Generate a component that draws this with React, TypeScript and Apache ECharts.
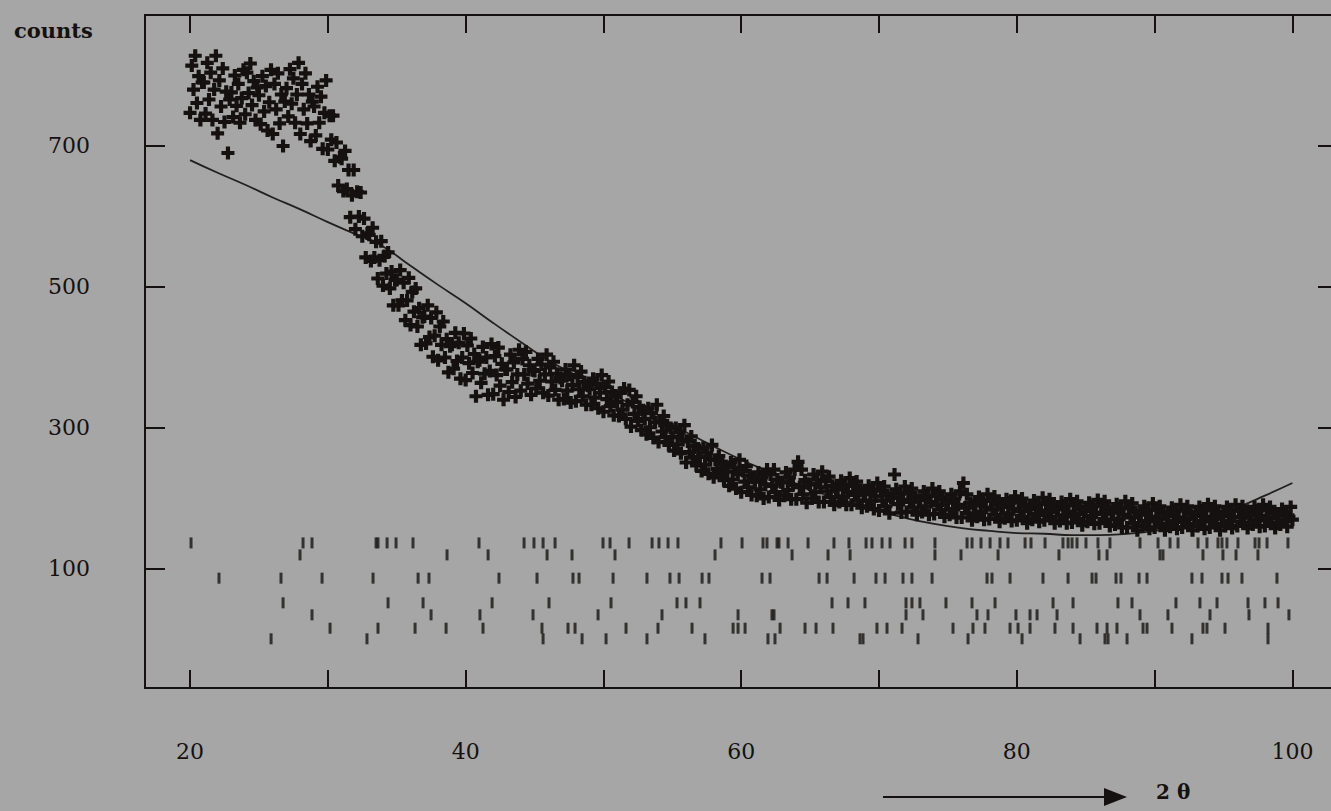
import React, { useEffect, useRef } from "react";
import * as echarts from "echarts";

// ---- observed pattern: 2θ grid start/step, counts ----
const THETA_START = 20;
const THETA_STEP = 0.125;
const obsCounts = [
  747, 814, 780, 828, 761, 799, 737, 790,
  790, 746, 818, 766, 804, 737, 780, 828,
  718, 793, 756, 810, 734, 777, 690, 766,
  776, 741, 800, 757, 788, 733, 768, 808,
  745, 804, 775, 817, 758, 792, 737, 783,
  772, 731, 799, 749, 785, 722, 762, 808,
  717, 788, 752, 803, 732, 773, 700, 763,
  782, 742, 809, 760, 796, 733, 773, 818,
  717, 788, 752, 803, 732, 773, 707, 763,
  756, 715, 784, 733, 770, 696, 747, 793,
  695, 743, 709, 743, 679, 705, 644, 684,
  682, 636, 693, 639, 666, 599, 630, 666,
  582, 635, 600, 634, 572, 597, 542, 576,
  574, 537, 584, 542, 564, 512, 538, 565,
  502, 544, 519, 549, 498, 522, 474, 510,
  510, 474, 524, 481, 506, 453, 481, 513,
  446, 493, 465, 498, 444, 470, 418, 457,
  458, 420, 474, 429, 456, 401, 431, 464,
  396, 444, 418, 451, 400, 426, 379, 416,
  418, 384, 435, 395, 421, 370, 400, 434,
  368, 417, 392, 427, 378, 405, 345, 394,
  396, 364, 415, 377, 400, 347, 381, 419,
  348, 402, 375, 414, 360, 391, 340, 383,
  383, 351, 404, 365, 393, 344, 376, 411,
  353, 398, 376, 408, 363, 389, 347, 382,
  381, 356, 398, 367, 390, 350, 376, 404,
  346, 386, 366, 394, 354, 377, 340, 371,
  367, 341, 383, 353, 375, 336, 361, 389,
  338, 372, 355, 380, 345, 365, 333, 360,
  355, 333, 370, 343, 363, 328, 350, 375,
  323, 358, 341, 366, 331, 351, 318, 346,
  337, 317, 350, 326, 356, 313, 333, 354,
  302, 337, 320, 345, 310, 330, 297, 325,
  313, 291, 328, 301, 321, 286, 308, 333,
  280, 310, 295, 317, 287, 304, 276, 300,
  287, 268, 300, 277, 294, 264, 283, 304,
  251, 281, 266, 288, 258, 275, 247, 271,
  259, 239, 272, 248, 265, 235, 255, 276,
  230, 255, 242, 260, 235, 249, 226, 246,
  238, 218, 251, 227, 244, 214, 234, 255,
  209, 239, 224, 246, 216, 233, 205, 229,
  224, 204, 237, 213, 230, 200, 220, 241,
  202, 234, 218, 241, 209, 227, 198, 223,
  223, 204, 237, 212, 230, 199, 219, 241,
  199, 252, 216, 241, 206, 226, 194, 221,
  220, 200, 234, 209, 227, 195, 216, 238,
  195, 225, 210, 231, 202, 218, 191, 214,
  213, 195, 225, 203, 219, 191, 209, 229,
  191, 218, 205, 224, 197, 212, 187, 208,
  206, 189, 218, 197, 212, 185, 203, 222,
  183, 211, 197, 217, 189, 205, 179, 201,
  201, 234, 213, 192, 207, 180, 198, 217,
  181, 208, 195, 214, 187, 202, 177, 198,
  198, 181, 210, 189, 204, 177, 195, 214,
  178, 204, 191, 210, 184, 199, 174, 195,
  194, 177, 206, 185, 200, 173, 191, 210,
  173, 222, 187, 206, 179, 194, 169, 190,
  191, 174, 202, 181, 197, 170, 187, 206,
  171, 197, 184, 203, 177, 192, 167, 188,
  188, 172, 199, 179, 194, 168, 185, 203,
  169, 195, 182, 200, 174, 189, 165, 185,
  187, 170, 197, 178, 192, 167, 183, 201,
  169, 194, 181, 199, 174, 188, 165, 185,
  185, 168, 195, 176, 190, 165, 181, 199,
  166, 191, 178, 196, 171, 185, 162, 182,
  184, 167, 194, 175, 189, 164, 180, 198,
  165, 191, 178, 196, 170, 185, 161, 181,
  180, 163, 192, 171, 186, 159, 177, 196,
  159, 187, 173, 193, 165, 181, 155, 177,
  178, 161, 189, 168, 184, 157, 174, 193,
  159, 184, 171, 189, 164, 178, 155, 175,
  177, 160, 187, 168, 182, 157, 173, 191,
  159, 184, 171, 189, 164, 178, 155, 175,
  177, 161, 188, 168, 183, 157, 174, 192,
  159, 184, 171, 189, 164, 178, 155, 175,
  177, 161, 188, 168, 182, 158, 174, 191,
  161, 184, 173, 189, 166, 179, 158, 176,
  178, 163, 188, 170, 183, 160, 175, 191,
  161, 184, 172, 188, 166, 179, 158, 176,
  176, 163, 185, 169, 181, 160, 174, 188,
  170,
];

// ---- calculated curve ----
const calcTheta = [20, 22, 24, 26, 28, 30, 32, 33.8, 36, 38, 40, 42, 44, 46, 48, 50, 52, 54, 56, 58, 60, 62, 64, 66, 68, 70, 72, 74, 76, 78, 80, 82, 84, 86, 88, 90, 92, 94, 96, 98, 100];
const calcCounts = [680, 662, 645, 627, 610, 592, 575, 560, 530, 503, 477, 449, 422, 396, 375, 354, 334, 314, 294, 274, 255, 238, 221, 206, 194, 182, 172, 164, 158, 154, 151, 150, 148, 148, 150, 154, 161, 172, 187, 204, 222];

// ---- reflection marks (2θ), one list per row ----
const braggRow1 = [20.07, 28.2, 28.85, 33.5, 33.64, 34.3, 34.95, 36.18, 40.97, 44.24, 44.96, 45.62, 46.49, 49.97, 50.48, 51.86, 53.53, 54.03, 54.69, 55.41, 58.53, 60.06, 61.58, 61.87, 62.6, 62.74, 63.4, 64.85, 66.73, 67.82, 69.06, 69.49, 70.22, 70.8, 71.89, 72.39, 74.06, 76.39, 76.75, 77.4, 78.06, 78.78, 79.36, 80.6, 81.03, 82.05, 83.35, 83.72, 84.01, 84.37, 85.02, 85.89, 86.76, 88.94, 90.25, 91.12, 91.7, 93.15, 93.8, 94.6, 94.89, 95.25, 96.05, 97.29, 97.58, 98.16, 99.68];
const braggRow1b = [27.98, 38.65, 41.63, 45.91, 47.72, 50.84, 58.1, 63.69, 66.3, 67.9, 74.06, 75.95, 78.64, 83.06, 85.96, 86.55, 90.39, 90.61, 93.51, 94.96, 95.91, 97.5];
const braggRow2 = [22.1, 26.6, 29.58, 33.28, 36.55, 37.34, 42.42, 45.18, 47.79, 48.23, 50.7, 53.16, 54.83, 55.49, 57.16, 57.66, 61.51, 62.09, 65.65, 66.23, 68.19, 69.78, 70.44, 71.74, 72.39, 73.85, 77.84, 78.2, 79.51, 81.9, 83.72, 85.46, 85.75, 87.2, 87.56, 88.87, 89.45, 92.71, 93.44, 94.89, 95.33, 96.34, 98.88];
const braggRow3 = [26.75, 34.37, 36.91, 41.92, 46.05, 50.55, 55.34, 55.99, 57.01, 66.59, 67.75, 68.98, 71.96, 72.39, 72.97, 74.86, 76.75, 78.42, 82.63, 84.08, 87.34, 88.36, 91.55, 93.29, 94.53, 96.78, 98.01, 98.96];
const braggRow3b = [28.85, 37.49, 41.04, 44.89, 49.61, 54.25, 59.77, 62.23, 62.38, 71.96, 73.19, 77.11, 77.91, 79.94, 80.96, 81.47, 82.92, 88.94, 90.97, 94.02, 96.85, 99.75];
const braggRow4 = [30.16, 33.64, 36.33, 38.58, 41.26, 45.54, 47.43, 47.94, 51.64, 53.96, 56.43, 59.41, 59.77, 60.28, 62.82, 64.63, 65.43, 66.66, 69.85, 70.58, 71.67, 75.37, 76.82, 77.69, 79.51, 80.09, 80.96, 82.77, 84.08, 85.82, 86.55, 87.27, 89.16, 89.45, 91.26, 93.51, 93.8, 95.11, 98.23];
const braggRow5 = [25.88, 32.84, 45.62, 48.45, 50.19, 53.16, 57.37, 61.94, 62.45, 68.62, 68.84, 72.83, 76.46, 80.38, 84.59, 86.4, 86.62, 88.0, 92.71, 98.23];
const braggRows = [braggRow1, braggRow1b, braggRow2, braggRow3, braggRow3b, braggRow4, braggRow5];
const braggRowLevels = [137, 120, 87, 52, 35, 16, 1];

// ---- axes ----
const xTicks = [20, 30, 40, 50, 60, 70, 80, 90, 100];
const xLabels = [20, 40, 60, 80, 100];
const yTicks = [100, 300, 500, 700];
const X_MIN = 16.73;
const X_MAX = 103.31;
const Y_MIN = -68.8;
const Y_MAX = 885.8;

const INK = "#141110";
const BG = "#a6a6a6";
const FONT = '"DejaVu Serif", "Liberation Serif", serif';
const PLUS = "path://M3.4 0H6.6V3.4H10V6.6H6.6V10H3.4V6.6H0V3.4H3.4Z";

export default function App() {
  const ref = useRef<HTMLDivElement>(null);

  useEffect(() => {
    if (!ref.current) return;
    const chart = echarts.init(ref.current, undefined, { renderer: "svg" });

    const axisCommon = {
      type: "value" as const,
      axisLine: { show: true, onZero: false, lineStyle: { color: INK, width: 2 } },
      splitLine: { show: false },
    };

    const obsData = obsCounts.map((c, i) => [THETA_START + i * THETA_STEP, c]);
    const calcData = calcTheta.map((t, i) => [t, calcCounts[i]]);

    const braggSeries = braggRows.map((row, r) => ({
      type: "scatter",
      name: "reflections " + (r + 1),
      data: row.map((t) => [t, braggRowLevels[r]]),
      symbol: "rect",
      symbolSize: [3, 11],
      itemStyle: { color: "#171514" },
      z: 4,
    }));

    chart.setOption({
      animation: false,
      backgroundColor: BG,
      grid: { left: 145, right: 7, top: 15, bottom: 123, containLabel: false },
      xAxis: [
        {
          ...axisCommon,
          position: "bottom",
          min: X_MIN,
          max: X_MAX,
          axisTick: { show: true, inside: true, length: 18, lineStyle: { color: INK, width: 2 }, customValues: xTicks },
          axisLabel: { show: true, customValues: xLabels, margin: 52, fontSize: 22, fontFamily: FONT, color: INK },
        },
        {
          ...axisCommon,
          position: "top",
          min: X_MIN,
          max: X_MAX,
          axisTick: { show: true, inside: true, length: 18, lineStyle: { color: INK, width: 2 }, customValues: xTicks },
          axisLabel: { show: false, customValues: xTicks },
        },
      ],
      yAxis: [
        {
          ...axisCommon,
          position: "left",
          min: Y_MIN,
          max: Y_MAX,
          axisTick: { show: true, inside: true, length: 20, lineStyle: { color: INK, width: 2 }, customValues: yTicks },
          axisLabel: { show: true, customValues: yTicks, margin: 55, fontSize: 22, fontFamily: FONT, color: INK },
        },
        {
          ...axisCommon,
          position: "right",
          min: Y_MIN,
          max: Y_MAX,
          axisTick: { show: true, inside: true, length: 20, lineStyle: { color: INK, width: 2 }, customValues: yTicks },
          axisLabel: { show: false, customValues: yTicks },
        },
      ],
      series: [
        {
          type: "line",
          name: "calculated",
          data: calcData,
          smooth: true,
          showSymbol: false,
          lineStyle: { color: "#22201f", width: 1.8 },
          z: 2,
        },
        {
          type: "scatter",
          name: "observed",
          data: obsData,
          symbol: PLUS,
          symbolSize: 13,
          itemStyle: { color: INK, opacity: 1 },
          z: 3,
        },
        ...braggSeries,
      ],
      graphic: [
        {
          type: "text",
          style: { text: "counts", x: 14, y: 30, fill: INK, font: "bold 21px " + FONT, align: "left", verticalAlign: "middle" },
        },
        {
          type: "line",
          shape: { x1: 883, y1: 797, x2: 1108, y2: 797 },
          style: { stroke: INK, lineWidth: 2 },
        },
        {
          type: "polygon",
          shape: { points: [[1104, 788], [1127, 797], [1104, 806]] },
          style: { fill: INK },
        },
        {
          type: "text",
          style: { text: "2 θ", x: 1156, y: 792, fill: INK, font: "bold 20px " + FONT, align: "left", verticalAlign: "middle" },
        },
      ],
    });

    return () => chart.dispose();
  }, []);

  return (
    <div style={{ position: "fixed", left: 0, top: 0, width: 1331, height: 811, overflow: "hidden", background: BG }}>
      <div ref={ref} style={{ width: 1345, height: 811 }} />
    </div>
  );
}
